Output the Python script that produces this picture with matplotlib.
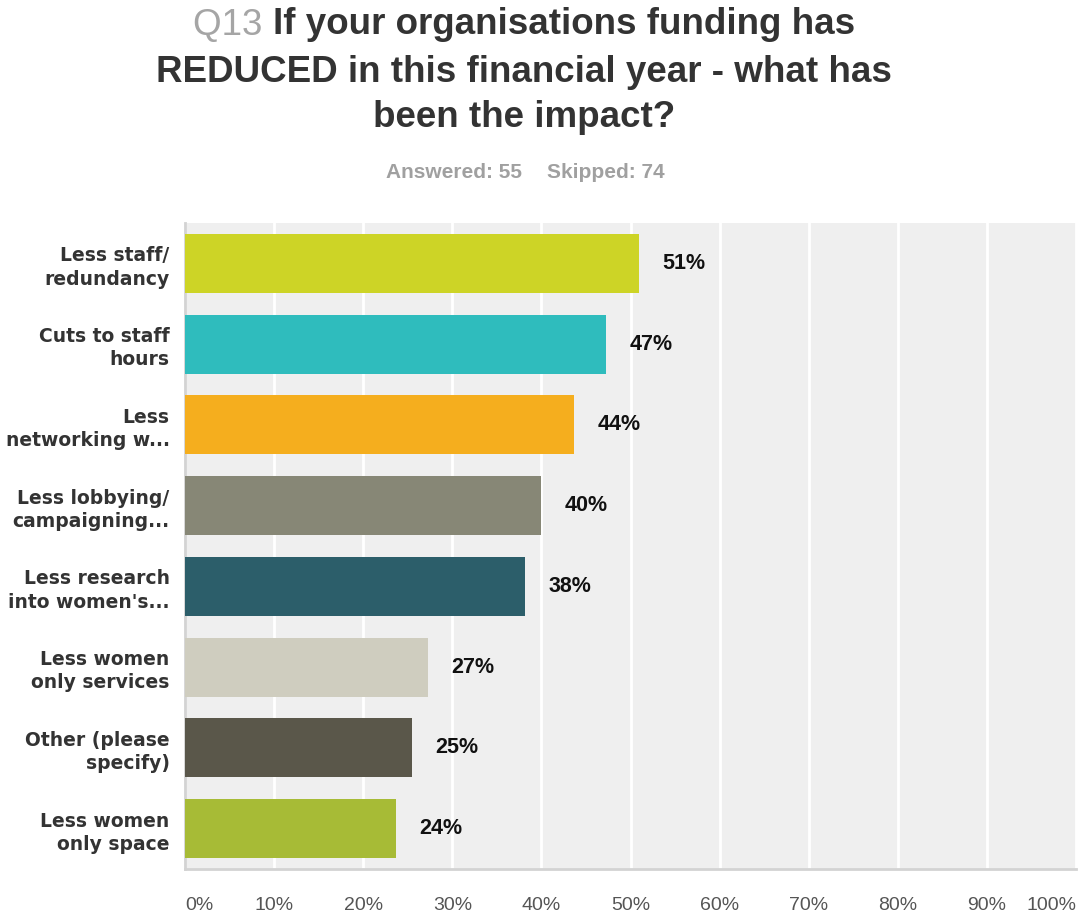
import matplotlib
matplotlib.use("Agg")
import matplotlib.pyplot as plt

# Survey results (share of 55 respondents)
categories = [
    "Less staff/\nredundancy",
    "Cuts to staff\nhours",
    "Less\nnetworking w...",
    "Less lobbying/\ncampaigning...",
    "Less research\ninto women's...",
    "Less women\nonly services",
    "Other (please\nspecify)",
    "Less women\nonly space",
]
percentages = [50.91, 47.27, 43.64, 40.00, 38.18, 27.27, 25.45, 23.64]
bar_colors = ["#cdd426", "#2fbcbd", "#f5ae1e", "#878776", "#2c5e6a",
              "#cfcdbf", "#5a574a", "#a7bb36"]
tick_values = list(range(0, 101, 10))
tick_labels = [f"{t}%" for t in tick_values]

question_no = "Q13"
title_lines = ["If your organisations funding has",
               "REDUCED in this financial year - what has",
               "been the impact?"]
answered = "Answered: 55"
skipped = "Skipped: 74"

SANS = "Liberation Sans"

W, H = 1078, 914
fig = plt.figure(figsize=(W / 100, H / 100), dpi=100)
fig.patch.set_facecolor("white")

ax = fig.add_axes([185 / W, 1 - 869 / H, (1076 - 185) / W, (869 - 223) / H])
ax.set_facecolor("#efefef")

y = list(range(len(categories)))
ax.barh(y, percentages, height=0.73, color=bar_colors, zorder=3)

ax.set_xlim(0, 100)
ax.set_ylim(len(categories) - 0.5, -0.5)
ax.set_xticks(tick_values)
ax.set_xticklabels(tick_labels)
ax.set_yticks(y)
ax.set_yticklabels(categories)
ax.grid(axis="x", color="white", linewidth=2, zorder=1)
ax.grid(axis="y", visible=False)

for side in ("top", "right"):
    ax.spines[side].set_visible(False)
for side in ("left", "bottom"):
    ax.spines[side].set_color("#d3d3d3")
    ax.spines[side].set_linewidth(2)

ax.tick_params(axis="y", length=0, pad=11)
ax.tick_params(axis="x", length=0, pad=20)
for lab in ax.get_yticklabels():
    lab.set_fontfamily("DejaVu Sans")
    lab.set_fontweight("bold")
    lab.set_fontsize(13.5)
    lab.set_color("#333333")
    lab.set_linespacing(1.28)
for i, lab in enumerate(ax.get_xticklabels()):
    lab.set_fontfamily(SANS)
    lab.set_fontsize(14)
    lab.set_color("#555555")
    if i == 0:
        lab.set_horizontalalignment("left")
    elif i == len(tick_values) - 1:
        lab.set_horizontalalignment("right")

for yi, v in zip(y, percentages):
    ax.annotate(f"{v:.0f}%", xy=(v, yi), xytext=(17, 0), textcoords="offset points",
                ha="left", va="center", fontsize=15.5, fontweight="bold",
                fontfamily=SANS, color="#111111", zorder=4)

# Title: grey question number followed by the bold question text
title_kw = dict(fontsize=26.5, fontweight="bold", fontfamily=SANS, color="#333333",
                va="center")
cx = 524 / W
line_y = [1 - 25 / H, 1 - 72 / H, 1 - 117 / H]
renderer = fig.canvas.get_renderer()

q = fig.text(0, line_y[0], question_no + " ", fontsize=26.5, fontfamily=SANS,
             color="#a5a5a5", va="center", ha="left")
rest = fig.text(0, line_y[0], title_lines[0], ha="left", **title_kw)
wq = q.get_window_extent(renderer).width / W
wr = rest.get_window_extent(renderer).width / W
x0 = cx - (wq + wr) / 2
q.set_x(x0)
rest.set_x(x0 + wq)

for text, ty in zip(title_lines[1:], line_y[1:]):
    fig.text(cx, ty, text, ha="center", **title_kw)

sub_kw = dict(va="center", fontsize=15, fontweight="bold", fontfamily=SANS,
              color="#a0a0a0")
fig.text(522 / W, 1 - 173 / H, answered, ha="right", **sub_kw)
fig.text(547 / W, 1 - 173 / H, skipped, ha="left", **sub_kw)

fig.savefig("out.png", dpi=100, facecolor="white")
